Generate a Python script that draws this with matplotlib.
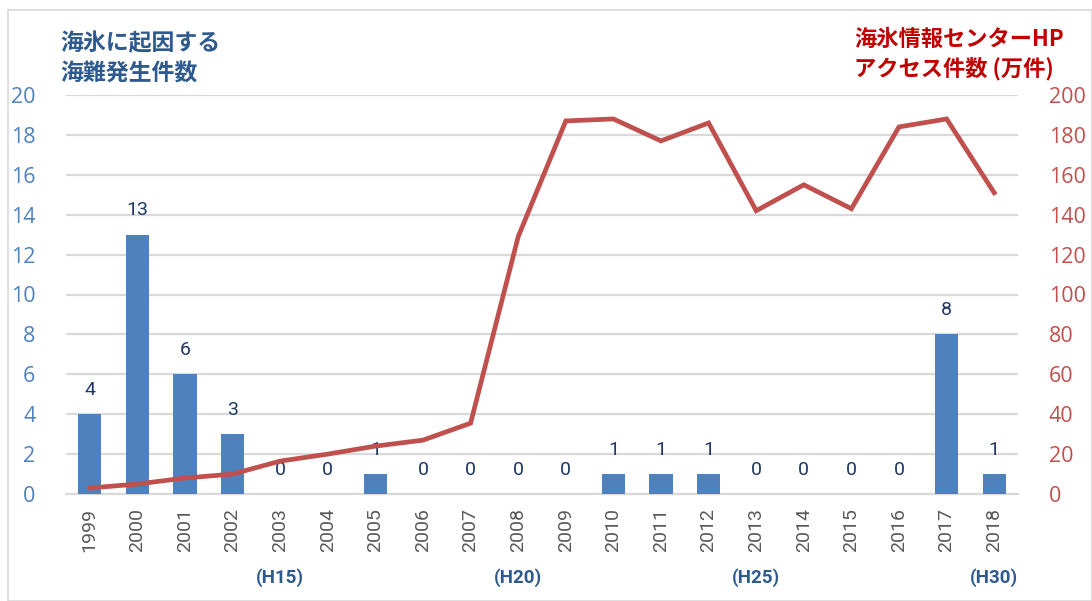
import matplotlib.pyplot as plt
import numpy as np

plt.rcParams['font.family'] = ['Noto Sans CJK JP', 'DejaVu Sans']

years = ['1999', '2000', '2001', '2002', '2003', '2004', '2005', '2006', '2007', '2008',
         '2009', '2010', '2011', '2012', '2013', '2014', '2015', '2016', '2017', '2018']
accidents = [4, 13, 6, 3, 0, 0, 1, 0, 0, 0, 0, 1, 1, 1, 0, 0, 0, 0, 8, 1]
access = [3, 5, 8, 10, 16.5, 20, 24, 27, 35.5, 129,
          187, 188, 177, 186, 142, 155, 143, 184, 188, 151]
era_pos = [4, 9, 14, 19]
era_labels = ['(H15)', '(H20)', '(H25)', '(H30)']

bar_c = '#4F81BD'
line_c = '#C0504D'
navy = '#2F5A8F'

fig = plt.figure(figsize=(10.92, 6.01), dpi=100)
ax = fig.add_axes([66 / 1092, 1 - 494 / 601, 952 / 1092, 399 / 601])
ax2 = ax.twinx()

x = np.arange(len(years))
ax.bar(x, accidents, width=0.49, color=bar_c, zorder=3)
for xi, v in zip(x, accidents):
    ax.annotate(str(v), (xi, v), xytext=(0, 11), textcoords='offset points',
                ha='center', va='bottom', fontsize=14, color='#1F3864',
                family=['Roboto', 'DejaVu Sans'], zorder=5)

ax2.plot(x, access, color=line_c, lw=3.4, solid_joinstyle='miter', zorder=4)

ax.set_xlim(-0.5, 19.5)
ax.set_ylim(0, 20)
ax2.set_ylim(0, 200)
ax.set_yticks(range(0, 21, 2))
ax2.set_yticks(range(0, 201, 20))
ax.yaxis.grid(True, color='#D9D9D9', lw=1.6, zorder=0)
ax.set_axisbelow(True)
for a in (ax, ax2):
    for s in a.spines.values():
        s.set_visible(False)
ax.spines['bottom'].set_visible(True)
ax.spines['bottom'].set_color('#D9D9D9')
ax.spines['bottom'].set_linewidth(1.6)

ax.set_xticks(x)
ax.set_xticklabels(years, rotation=90, fontsize=14, color='#595959',
                   family=['Roboto', 'DejaVu Sans'])
ax.tick_params(axis='x', length=0, pad=10)
ax.tick_params(axis='y', length=0, labelsize=15.5, labelcolor=bar_c, pad=22)
ax2.tick_params(axis='y', length=0, labelsize=15.5, labelcolor=line_c, pad=22)
for lab in ax.get_yticklabels() + ax2.get_yticklabels():
    lab.set_family(['Open Sans', 'DejaVu Sans'])

for p, t in zip(era_pos, era_labels):
    ax.text(p, -0.21, t, transform=ax.get_xaxis_transform(), ha='center', va='center',
            fontsize=13.5, fontweight='bold', color=navy, family=['Roboto', 'DejaVu Sans'])

fig.text(60 / 1092, 1 - 44 / 601, '海氷に起因する', fontsize=16.5, fontweight='bold', color=navy,
         ha='left', va='center')
fig.text(60 / 1092, 1 - 74 / 601, '海難発生件数', fontsize=16.5, fontweight='bold', color=navy,
         ha='left', va='center')
fig.text(854 / 1092, 1 - 39 / 601, '海氷情報センターHP', fontsize=16, fontweight='bold',
         color='#C00000', ha='left', va='center')
fig.text(854 / 1092, 1 - 69 / 601, 'アクセス件数 (万件)', fontsize=16, fontweight='bold',
         color='#C00000', ha='left', va='center')

border = plt.Rectangle((8 / 1092, 0), 1 - 8 / 1092, 1 - 10 / 601, transform=fig.transFigure,
                       fill=False, edgecolor='#D9D9D9', lw=1.2)
fig.patches.append(border)

fig.savefig('out.png', dpi=100)
